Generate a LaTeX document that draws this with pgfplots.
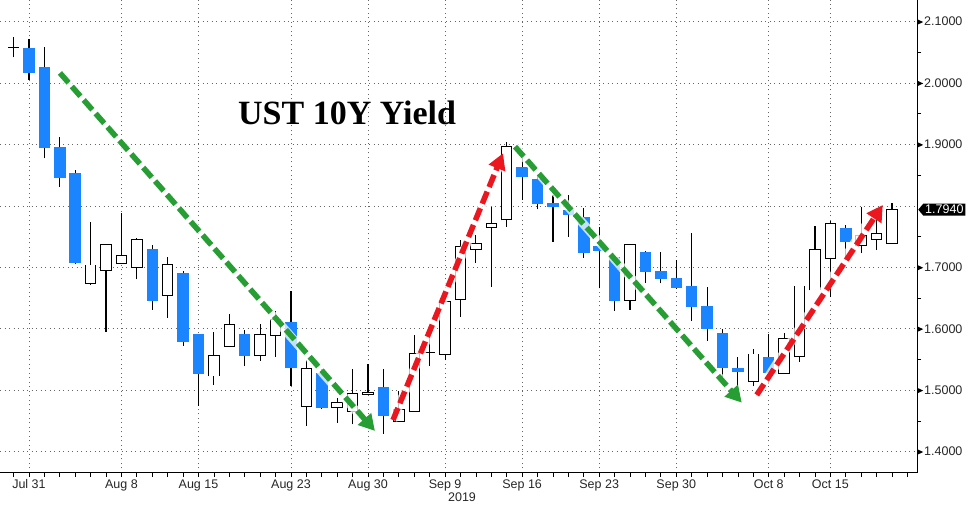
\documentclass[border=0pt]{standalone}
\usepackage{fontspec}
\setmainfont{Liberation Sans}
\newfontfamily\titlefont{Liberation Serif}
\usepackage{pgfplots}
\usepackage{pgfplotstable}
\pgfplotsset{compat=1.18}
\usetikzlibrary{arrows.meta,shapes.symbols}

\definecolor{candleblue}{RGB}{26,133,255}
\definecolor{arrgreen}{RGB}{38,158,52}
\definecolor{arrred}{RGB}{236,22,30}

% trading-day index: 0 = Jul 30 2019 ... 57 = Oct 21 2019
\pgfplotstableread{
i open high low close
1 2.0567 2.0713 2.0051 2.0160
2 2.0267 2.0593 1.8776 1.8939
3 1.8965 1.9128 1.8314 1.8460
4 1.8542 1.8586 1.7060 1.7077
9 1.7300 1.7365 1.6307 1.6458
11 1.6914 1.6947 1.5726 1.5791
12 1.5916 1.5916 1.4744 1.5265
15 1.5916 1.5981 1.5395 1.5563
18 1.6111 1.6616 1.5074 1.5358
20 1.5276 1.5341 1.4700 1.4716
24 1.5058 1.5346 1.4288 1.4586
33 1.8630 1.8776 1.8097 1.8477
34 1.8434 1.8504 1.7946 1.8027
35 1.8053 1.8179 1.7419 1.7978
36 1.7935 1.8179 1.7500 1.7848
37 1.7816 1.7962 1.7158 1.7230
38 1.7353 1.7663 1.6660 1.7272
39 1.7174 1.7174 1.6295 1.6458
41 1.7246 1.7272 1.6751 1.6930
42 1.6946 1.7256 1.6741 1.6806
43 1.6832 1.7121 1.6650 1.6660
44 1.6697 1.7565 1.6133 1.6360
45 1.6372 1.6676 1.5807 1.6002
46 1.5927 1.5993 1.5102 1.5358
47 1.5358 1.5546 1.5069 1.5302
49 1.5546 1.5916 1.5102 1.5286
54 1.7637 1.7690 1.7121 1.7409
}\downcandles

\pgfplotstableread{
i open high low close
0 2.0583 2.0756 2.0420 2.0583
5 1.6741 1.7744 1.6714 1.7039
6 1.6947 1.7365 1.5953 1.7365
7 1.7067 1.7881 1.7067 1.7186
8 1.7002 1.7484 1.6806 1.7458
10 1.6540 1.7174 1.6181 1.7051
13 1.5232 1.5953 1.5086 1.5558
14 1.5709 1.6242 1.5700 1.6074
16 1.5563 1.6079 1.5481 1.5911
17 1.5888 1.6295 1.5546 1.6144
19 1.4733 1.5493 1.4423 1.5358
21 1.4723 1.4869 1.4472 1.4804
22 1.4651 1.5346 1.4446 1.4951
23 1.4934 1.5428 1.4934 1.4967
25 1.4488 1.4993 1.4488 1.4679
26 1.4651 1.5900 1.4651 1.5602
27 1.5612 1.6063 1.5400 1.5612
28 1.5586 1.6442 1.5493 1.6442
29 1.6481 1.7446 1.6198 1.7337
30 1.7295 1.7528 1.7077 1.7392
31 1.7653 1.7988 1.6686 1.7718
32 1.7772 1.9046 1.7663 1.8965
40 1.6465 1.7376 1.6307 1.7376
48 1.5140 1.5667 1.5069 1.5590
50 1.5276 1.5927 1.5276 1.5846
51 1.5546 1.6697 1.5465 1.6697
52 1.6632 1.7674 1.6632 1.7295
53 1.7148 1.7760 1.6523 1.7718
55 1.7349 1.7978 1.7230 1.7516
56 1.7458 1.7907 1.7284 1.7544
57 1.7393 1.8044 1.7393 1.7946
}\upcandles

\pgfplotsset{candle/.style={draw=none, mark=none, forget plot,
    error bars/.cd, y dir=plus, y explicit, error mark=none}}

\begin{document}
\begin{tikzpicture}
\begin{axis}[
    scale only axis,
    width=917pt, height=473pt,
    xmin=-0.88, xmax=58.62,
    ymin=1.3653, ymax=2.1353,
    clip=false,
    axis x line=bottom, axis y line=right,
    axis line style={-, black, line width=1pt},
    xtick={1,7,12,18,23,28,33,38,43,49,53},
    xticklabels={Jul 31,Aug 8,Aug 15,Aug 23,Aug 30,Sep 9,Sep 16,Sep 23,Sep 30,Oct 8,Oct 15},
    minor xtick={0,1,...,58},
    ytick={1.4,1.5,1.6,1.7,1.9,2.0,2.1},
    minor ytick={1.45,1.55,1.65,1.75,1.85,1.95,2.05},
    extra y ticks={1.8},
    extra y tick labels={},
    extra y tick style={grid=major, major tick length=0pt},
    tick align=outside,
    major tick length=4pt, minor tick length=4pt,
    tick style={black, line width=0.8pt},
    every major y tick/.append style={draw=none},
    xmajorgrids, ymajorgrids,
    major grid style={black!60, line width=0.8pt, dash pattern=on 1pt off 3.5pt},
    /pgf/number format/assume math mode=true,
    tick label style={font=\fontsize{12.5}{14}\selectfont, text=black!85},
    xticklabel style={yshift=1pt},
    yticklabel={\tikz[baseline=-0.6ex]\fill[black] (0,2.8pt)--(6pt,0)--(0,-2.8pt)--cycle;\hspace{1pt}\pgfmathprintnumber[fixed,fixed zerofill,precision=4]{\tick}},
    yticklabel style={xshift=-4pt, inner xsep=0pt},
]
% wicks
\addplot[candle, error bar style={draw=black, line width=1.1pt}]
    table[x=i, y=low, y error plus expr={\thisrow{high}-\thisrow{low}}] {\downcandles};
\addplot[candle, error bar style={draw=black, line width=1.1pt}]
    table[x=i, y=low, y error plus expr={\thisrow{high}-\thisrow{low}}] {\upcandles};
% down bodies
\addplot[candle, error bar style={draw=candleblue, line width=11.5pt}]
    table[x=i, y=close, y error plus expr={\thisrow{open}-\thisrow{close}}] {\downcandles};
% up bodies: outline, then white fill
\addplot[candle, error bar style={draw=black, line width=11.5pt}]
    table[x=i, y expr={\thisrow{open}-0.0008}, y error plus expr={\thisrow{close}-\thisrow{open}+0.0016}] {\upcandles};
\addplot[candle, error bar style={draw=white, line width=9.5pt}]
    table[x=i, y expr={\thisrow{open}+0.0008}, y error plus expr={max(\thisrow{close}-\thisrow{open}-0.0016,0)}] {\upcandles};

% trend arrows
\draw[white, line width=9pt, opacity=0.75] (axis cs:3.01,2.0165) -- (axis cs:23.0,1.444);
\draw[arrgreen, line width=5.5pt, dash pattern=on 13pt off 5pt, -{Triangle[length=16pt,width=17pt]}] (axis cs:3.01,2.0165) -- (axis cs:23.45,1.4337);
\draw[white, line width=9pt, opacity=0.75] (axis cs:24.62,1.4516) -- (axis cs:31.5,1.865);
\draw[arrred, line width=5.5pt, dash pattern=on 13pt off 5pt, -{Triangle[length=16pt,width=17pt]}] (axis cs:24.62,1.4516) -- (axis cs:31.76,1.8858);
\draw[white, line width=9pt, opacity=0.75] (axis cs:32.54,1.8965) -- (axis cs:46.8,1.492);
\draw[arrgreen, line width=5.5pt, dash pattern=on 13pt off 5pt, -{Triangle[length=16pt,width=17pt]}] (axis cs:32.54,1.8965) -- (axis cs:47.25,1.4798);
\draw[white, line width=9pt, opacity=0.75] (axis cs:48.22,1.4923) -- (axis cs:55.8,1.788);
\draw[arrred, line width=5.5pt, dash pattern=on 13pt off 5pt, -{Triangle[length=16pt,width=17pt]}] (axis cs:48.22,1.4923) -- (axis cs:56.4,1.8016);

\node[font=\titlefont\bfseries\fontsize{34}{40}\selectfont] at (axis cs:21.64,1.9514) {UST 10Y Yield};
\node[font=\fontsize{12.5}{14}\selectfont, text=black!85] at ([yshift=-24pt]axis cs:29.1,1.3653) {2019};
\node[signal, signal to=west, signal pointer angle=100, fill=black, text=white,
      inner xsep=2pt, inner ysep=1.5pt, anchor=west,
      font=\fontsize{12.5}{14}\selectfont] at ([xshift=1pt]axis cs:58.62,1.794) {1.7940};
\end{axis}
\pgfresetboundingbox
\path (current axis.south west) ++(0pt,-35pt) rectangle ([xshift=59pt]current axis.north east);
\end{tikzpicture}
\end{document}
